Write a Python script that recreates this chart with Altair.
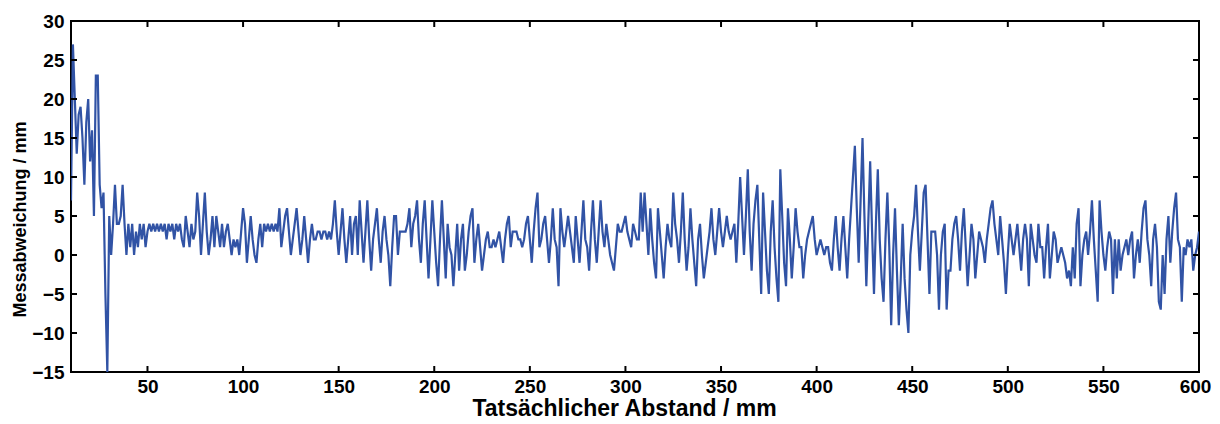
import altair as alt
import pandas as pd

# Measured deviation (mm), one value per mm of actual distance, starting at 10 mm
deviation = [
    7, 27, 20, 13, 18, 19, 15, 9, 17, 20,
    12, 16, 5, 23, 23, 9, 6, 8, -5, -15,
    5, 0, 4, 9, 4, 4, 5, 9, 4, 0,
    4, 1, 4, 0, 3, 1, 4, 2, 4, 1,
    3, 4, 3, 4, 3, 4, 3, 4, 3, 4,
    2, 4, 3, 4, 2, 4, 3, 4, 2, 1,
    5, 3, 1, 4, 2, 3, 8, 5, 0, 4,
    8, 3, 0, 2, 5, 1, 5, 3, 1, 4,
    1, 3, 4, 2, 0, 2, 1, 2, 0, 3,
    6, 4, -1, 2, 5, 2, 0, -1, 2, 4,
    1, 4, 3, 4, 3, 4, 3, 4, 3, 6,
    1, 3, 5, 6, 3, 0, 2, 4, 6, 3,
    0, 2, 5, 2, -1, 2, 4, 2, 2, 3,
    3, 2, 3, 3, 2, 3, 2, 4, 7, 3,
    0, 3, 6, 2, -1, 2, 5, 0, 4, 5,
    0, 7, 3, -1, 3, 7, 2, -2, 2, 4,
    6, 2, -1, 3, 5, 2, 0, -4, 1, 5,
    5, 0, 3, 3, 3, 3, 4, 6, 1, 4,
    5, 7, 2, -1, 4, 7, 2, -3, 2, 7,
    3, -1, -4, 2, 7, 2, -3, 4, 1, 0,
    -4, 0, 4, -2, 2, 4, -2, 0, 3, 5,
    6, -1, 2, 4, 1, -2, 0, 2, 3, 1,
    1, 2, 1, 2, 3, 1, -1, 2, 4, 5,
    1, 3, 3, 3, 2, 2, 1, 2, 4, 5,
    2, -1, 3, 6, 8, 1, 2, 4, 5, 2,
    -1, 2, 6, 2, 1, -4, 6, 3, 1, 3,
    5, 3, 1, -1, 5, 2, -1, 3, 7, 2,
    1, -2, 3, 7, 2, -1, 3, 7, 3, 1,
    4, 2, 0, -1, -2, 1, 4, 3, 3, 4,
    5, 3, 2, 1, 4, 3, 2, 2, 8, 3,
    8, 4, 0, 6, 2, -1, -3, 6, 3, 0,
    -3, 1, 4, 2, 1, 8, 4, 2, -1, 3,
    8, 2, -2, 1, 6, 2, -1, -4, 2, 4,
    0, -3, -1, 1, 3, 6, 2, 0, 3, 6,
    3, 1, 3, 5, 3, 2, 3, 4, -1, 4,
    10, 5, 0, 5, 11, 3, -2, 4, 7, 9,
    2, -5, 8, 3, -2, -5, 3, 7, 1, -3,
    -6, 11, 5, -1, -4, 6, 2, -3, 1, 6,
    3, 1, 1, -3, 0, 2, 3, 4, 5, 2,
    0, 1, 2, 1, 0, 1, 1, -1, -2, 2,
    5, 1, -2, 2, 5, 1, -3, 2, 6, 10,
    14, 6, -1, 7, 15, 5, -4, 4, 12, 3,
    -5, 4, 11, 2, -3, -6, 2, 8, 1, -9,
    0, 6, -2, -9, -3, 4, -3, -7, -10, 0,
    3, 5, 9, 3, -2, 3, 8, 9, 2, -5,
    3, 3, 3, 0, -7, 0, 3, 4, -7, -2,
    -2, 2, 4, 5, 2, -2, 3, 6, 1, -4,
    0, 4, 2, -3, 0, 3, 2, 1, -1, 2,
    4, 6, 7, 4, 2, 0, 5, 2, -1, -5,
    0, 4, 2, 0, 2, 4, 1, -2, 2, 4,
    2, -4, 4, 2, 0, -1, 4, 1, 1, -3,
    1, 4, -3, 0, 3, 2, -1, 0, 1, 0,
    -1, -3, -2, -4, 1, -3, 4, 6, -4, 0,
    2, 3, 0, 3, 7, 2, -2, -6, 7, 3,
    0, -2, 1, 3, 2, -5, 2, -3, 2, -2,
    0, 1, 2, 0, 2, 3, -3, 0, 2, -1,
    3, 6, 7, 2, 0, -4, 2, 4, 1, -6,
    -7, 0, -5, 2, 5, -1, 3, 6, 8, 2,
    1, -6, 1, 0, 2, 1, 2, -2, 0, 1,
    3,
]
distance = list(range(10, 10 + len(deviation)))

x_ticks = [50, 100, 150, 200, 250, 300, 350, 400, 450, 500, 550, 600]
y_ticks = [-15, -10, -5, 0, 5, 10, 15, 20, 25, 30]
x_domain = [10, 600]
y_domain = [-15, 30]

W, H = 1128, 351
TICK = 6
FONT = "Liberation Sans"
LINE_COLOR = "#3153A5"

df = pd.DataFrame({"dist": distance, "dev": deviation})
xt = pd.DataFrame({"dist": x_ticks})
yt = pd.DataFrame({"dev": y_ticks})

xscale = alt.Scale(domain=x_domain, nice=False, zero=False)
yscale = alt.Scale(domain=y_domain, nice=False, zero=False)

xaxis = alt.Axis(
    title="Tatsächlicher Abstand / mm", values=x_ticks, ticks=False,
    domain=False, grid=False, labelFontSize=19, labelFontWeight="bold",
    labelColor="black", labelPadding=5, labelFlush=False,
    labelOffset={"condition": {"test": "datum.value == 600", "value": -4}, "value": 0},
    titleFontSize=23, titleFontWeight="bold", titleColor="black",
    titlePadding=1, titleX=553, format="d")
yaxis = alt.Axis(
    title="Messabweichung / mm", values=y_ticks, ticks=False,
    domain=False, grid=False, labelFontSize=19, labelFontWeight="bold",
    labelColor="black", labelPadding=7, labelFlush=False,
    titleFontSize=18, titleFontWeight="bold", titleColor="black",
    titlePadding=2, titleY=198, format="d")

X = alt.X("dist:Q", scale=xscale, axis=xaxis, title="Tatsächlicher Abstand / mm")
Y = alt.Y("dev:Q", scale=yscale, axis=yaxis, title="Messabweichung / mm")

line = alt.Chart(df).mark_line(
    color=LINE_COLOR, strokeWidth=2.2, clip=True
).encode(x=X, y=Y)

tick_style = dict(color="black", strokeWidth=2)
left_ticks = alt.Chart(yt).mark_rule(**tick_style).encode(
    y=Y, x=alt.value(0), x2=alt.value(TICK))
right_ticks = alt.Chart(yt).mark_rule(**tick_style).encode(
    y=Y, x=alt.value(W - TICK), x2=alt.value(W))
bottom_ticks = alt.Chart(xt).mark_rule(**tick_style).encode(
    x=X, y=alt.value(H - TICK), y2=alt.value(H))
top_ticks = alt.Chart(xt).mark_rule(**tick_style).encode(
    x=X, y=alt.value(0), y2=alt.value(TICK))

chart = alt.layer(line, left_ticks, right_ticks, bottom_ticks, top_ticks).properties(
    width=W, height=H,
    autosize=alt.AutoSizeParams(type="none"),
    padding={"left": 63, "top": 13, "right": 13, "bottom": 52},
).configure(font=FONT).configure_view(stroke="black", strokeWidth=2)

chart.save("out.html", embed_options={"renderer": "svg", "actions": False})
